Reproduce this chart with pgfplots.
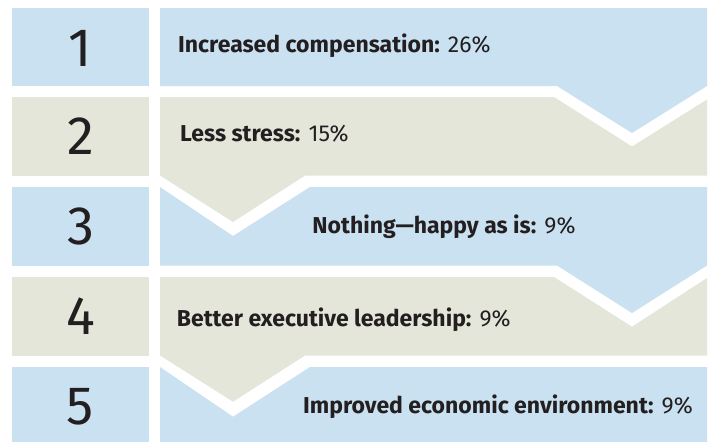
\documentclass[border=0pt]{standalone}
\usepackage{pgfplots}
\pgfplotsset{compat=1.18}
\usepackage{fontspec}
\setmainfont{Fira Sans}
\definecolor{lblue}{RGB}{201,225,240}
\definecolor{lgrey}{RGB}{228,230,218}
\definecolor{ink}{RGB}{35,31,32}
\begin{document}
\begin{tikzpicture}
\begin{axis}[scale only axis, width=710pt, height=442pt,
  xmin=0, xmax=710, ymin=0, ymax=442, y dir=reverse, hide axis, clip=true]
% background
\addplot[fill=white, draw=none] coordinates {(0,0)(710,0)(710,442)(0,442)};
% left number boxes
\addplot[fill=lblue, draw=none] coordinates {(12,8)(149,8)(149,86)(12,86)};
\addplot[fill=lgrey, draw=none] coordinates {(12,97)(149,97)(149,175.5)(12,175.5)};
\addplot[fill=lblue, draw=none] coordinates {(12,187)(149,187)(149,265.5)(12,265.5)};
\addplot[fill=lgrey, draw=none] coordinates {(12,277)(149,277)(149,355.5)(12,355.5)};
\addplot[fill=lblue, draw=none] coordinates {(12,367)(149,367)(149,445)(12,445)};
% right panels
\addplot[fill=lblue, draw=none] coordinates {(160,8)(707,8)(707,86)(632,133)(557,86)(160,86)};
\addplot[fill=lgrey, draw=none] coordinates {(160,97)(554,97)(632,146.5)(707,99.5)(707,175.5)(305,175.5)(233,222)(160,175.5)};
\addplot[fill=lblue, draw=none] coordinates {(160,187)(233,236)(310,187)(707,187)(707,265.5)(632,313)(557,265.5)(160,265.5)};
\addplot[fill=lgrey, draw=none] coordinates {(160,277)(554,277)(632,326.7)(707,278)(707,355.5)(305,355.5)(233,401.7)(160,355.5)};
\addplot[fill=lblue, draw=none] coordinates {(160,367)(233,416.7)(310,367)(707,367)(707,445)(160,445)};
% numbers
\begin{scope}[every node/.style={anchor=base, inner sep=0pt, text=ink, font=\fontsize{54}{60}\selectfont}]
\node at (axis cs:80.5,66.5) {1};
\node at (axis cs:80.5,154.5) {2};
\node at (axis cs:80.5,244.5) {3};
\node at (axis cs:80.5,334.5) {4};
\node at (axis cs:80.5,424) {5};
\end{scope}
% labels
\begin{scope}[every node/.style={inner sep=0pt, text=ink, font=\fontsize{23}{27}\selectfont}]
\node[anchor=base west] at (axis cs:178,52) {\textbf{Increased compensation:} 26\%};
\node[anchor=base west] at (axis cs:180,141.7) {\textbf{Less stress:} 15\%};
\node[anchor=base] at (axis cs:444,233) {\textbf{Nothing—happy as is:} 9\%};
\node[anchor=base west] at (axis cs:176.7,326) {\textbf{Better executive leadership:} 9\%};
\node[anchor=base west] at (axis cs:303,413) {\textbf{Improved economic environment:} 9\%};
\end{scope}
\end{axis}
\end{tikzpicture}
\end{document}
